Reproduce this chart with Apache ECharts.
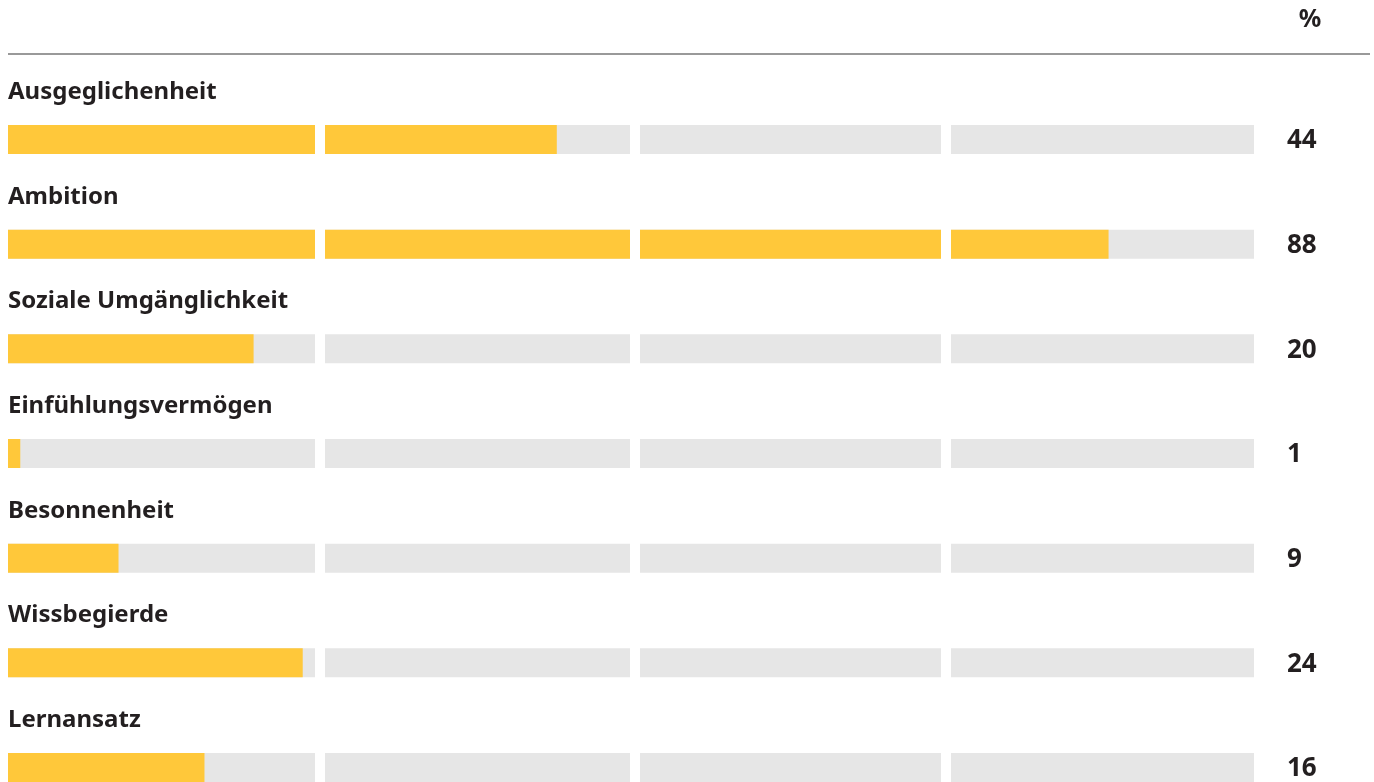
<!DOCTYPE html>
<html>
<head>
<meta charset="utf-8">
<script src="https://cdn.jsdelivr.net/npm/echarts@6/dist/echarts.min.js"></script>
<style>
  html, body { margin: 0; padding: 0; background: #fff; }
  #main { width: 1374px; height: 782px; }
</style>
</head>
<body>
<div id="main"></div>
<script>
// data
const categories = ['Ausgeglichenheit', 'Ambition', 'Soziale Umgänglichkeit', 'Einfühlungsvermögen', 'Besonnenheit', 'Wissbegierde', 'Lernansatz'];
const values = [44, 88, 20, 1, 9, 24, 16];
const segmentSize = 25;
const segmentCount = 4;

// left/width of every segment in px
const segLeft = [8, 325, 640, 951];
const segWidth = [307, 305, 301, 303];

const yellow = '#FFC83A';
const grey = '#E6E6E6';
const textColor = '#231F20';
const font = 'Noto Sans';

let myChart = echarts.init(document.getElementById('main'));

let grids = [], xAxes = [], yAxes = [], series = [];
for (let s = 0; s < segmentCount; s++) {
	// categories sit on the grid edges (boundaryGap false), first bar centre 139.5, last 767.5
	grids.push({ left: segLeft[s], width: segWidth[s], top: 139.5, height: 628 });
	xAxes.push({ type: 'value', gridIndex: s, min: 0, max: segmentSize, show: false });
	yAxes.push({ type: 'category', gridIndex: s, data: categories, inverse: true, boundaryGap: false, show: false });

	let bg = {
		type: 'bar',
		xAxisIndex: s,
		yAxisIndex: s,
		barWidth: 29,
		silent: true,
		itemStyle: { color: grey },
		data: categories.map(function () { return segmentSize; })
	};
	if (s === 0) {
		bg.label = {
			show: true,
			position: [0, -33],
			verticalAlign: 'middle',
			formatter: '{b}',
			color: textColor,
			fontFamily: font,
			fontWeight: 'bold',
			fontSize: 24
		};
	}
	if (s === segmentCount - 1) {
		bg.label = {
			show: true,
			position: 'right',
			distance: 33,
			offset: [0, 1.5],
			formatter: function (p) { return values[p.dataIndex]; },
			color: textColor,
			fontFamily: font,
			fontWeight: 'bold',
			fontSize: 26
		};
	}
	series.push(bg);

	series.push({
		type: 'bar',
		xAxisIndex: s,
		yAxisIndex: s,
		barWidth: 29,
		barGap: '-100%',
		silent: true,
		itemStyle: { color: yellow },
		data: values.map(function (v) {
			return Math.max(0, Math.min(segmentSize, v - s * segmentSize));
		})
	});
}

let chartOption = {
	animation: false,
	grid: grids,
	xAxis: xAxes,
	yAxis: yAxes,
	graphic: [
		{
			type: 'line',
			shape: { x1: 8, y1: 54, x2: 1370, y2: 54 },
			style: { stroke: '#999999', lineWidth: 2 }
		},
		{
			type: 'text',
			x: 1310,
			y: 20,
			style: {
				text: '%',
				align: 'center',
				verticalAlign: 'middle',
				fill: textColor,
				font: 'bold 25px ' + font
			}
		}
	],
	series: series
};

chartOption && myChart.setOption(chartOption);
</script>
</body>
</html>
